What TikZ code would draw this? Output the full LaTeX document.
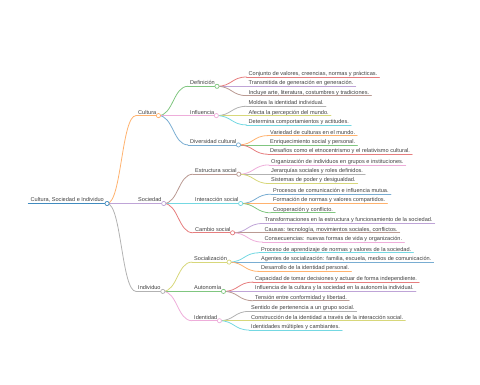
\documentclass[tikz,border=0pt]{standalone}
\usepackage{fontspec}
\setmainfont{Liberation Sans}
\usetikzlibrary{calc}
\definecolor{kblue}{HTML}{1F77B4}
\definecolor{korange}{HTML}{FF7F0E}
\definecolor{kgreen}{HTML}{2CA02C}
\definecolor{kred}{HTML}{D62728}
\definecolor{kpurple}{HTML}{9467BD}
\definecolor{kbrown}{HTML}{8C564B}
\definecolor{kpink}{HTML}{E377C2}
\definecolor{kgray}{HTML}{7F7F7F}
\definecolor{kolive}{HTML}{BCBD22}
\definecolor{kcyan}{HTML}{17BECF}
\colorlet{cblue}{kblue!60!white}
\colorlet{corange}{korange!60!white}
\colorlet{cgreen}{kgreen!60!white}
\colorlet{cred}{kred!60!white}
\colorlet{cpurple}{kpurple!60!white}
\colorlet{cbrown}{kbrown!60!white}
\colorlet{cpink}{kpink!60!white}
\colorlet{cgray}{kgray!60!white}
\colorlet{colive}{kolive!60!white}
\colorlet{ccyan}{kcyan!60!white}
\tikzset{
  mmtext/.style={font=\fontsize{5.6}{6.7}\selectfont, text=black!75, inner xsep=2pt, inner ysep=0pt},
  mmline/.style={line width=0.8pt, line cap=round},
  mmdot/.style={circle, fill=white, minimum size=4.2pt, inner sep=0pt, line width=0.7pt},
}
\newcommand\mmn[5]{%
  \coordinate (#1s) at (#3,#4);
  \node[mmtext, anchor=base west] (#1) at ($(#1s)+(0,-1.6)$) {#5};
  \draw[mmline, draw=#2] (#1s) -- (#1.east |- #1s) coordinate (#1e);
}
\newcommand\mml[3]{\draw[mmline, draw=#1] (#2) .. controls ($(#2)!0.5!(#2 -| #3)$) and ($(#3)!0.5!(#3 -| #2)$) .. (#3);}
\newcommand\mmc[2]{\node[mmdot, draw=#2] (#1c) at (#1e) {};}
\begin{document}
\begin{tikzpicture}[x=1pt, y=-1pt]
\useasboundingbox (0,0) rectangle (480,384);
% root
\coordinate (rs) at (27.5,203.5);
\node[mmtext, inner xsep=3pt, anchor=base west] (r) at ($(rs)+(0,-1.6)$) {Cultura, Sociedad e Individuo};
\draw[line width=1.2pt, draw=kblue!85!white] (rs) -- (r.east |- rs) coordinate (re);
% level 1
\mmn{cul}{corange}{136}{115.6}{Cultura}
\mmn{soc}{cpurple}{136}{203.5}{Sociedad}
\mmn{ind}{cgray}{136}{291.4}{Individuo}
\mml{corange}{re}{culs}
\mml{cpurple}{re}{socs}
\mml{cgray}{re}{inds}
% level 2
\mmn{def}{cgreen}{188}{86.3}{Definición}
\mmn{inf}{cpink}{188}{115.6}{Influencia}
\mmn{div}{cblue}{188}{144.9}{Diversidad cultural}
\mmn{est}{cbrown}{193}{174.2}{Estructura social}
\mmn{int}{ccyan}{193}{203.5}{Interacción social}
\mmn{cam}{cred}{193}{232.8}{Cambio social}
\mmn{soz}{colive}{192}{262.1}{Socialización}
\mmn{aut}{cgreen}{192}{291.4}{Autonomía}
\mmn{idn}{cpink}{192}{320.7}{Identidad}
\mml{cgreen}{cule}{defs}
\mml{cpink}{cule}{infs}
\mml{cblue}{cule}{divs}
\mml{cbrown}{soce}{ests}
\mml{ccyan}{soce}{ints}
\mml{cred}{soce}{cams}
\mml{colive}{inde}{sozs}
\mml{cgreen}{inde}{auts}
\mml{cpink}{inde}{idns}
% leaves: Definición
\mmn{a1}{cred}{246.5}{77}{Conjunto de valores, creencias, normas y prácticas.}
\mmn{a2}{cpurple}{246.5}{86.3}{Transmitida de generación en generación.}
\mmn{a3}{cbrown}{246.5}{95.6}{Incluye arte, literatura, costumbres y tradiciones.}
\mml{cred}{defe}{a1s}\mml{cpurple}{defe}{a2s}\mml{cbrown}{defe}{a3s}
% Influencia
\mmn{b1}{cgray}{246.5}{106.3}{Moldea la identidad individual.}
\mmn{b2}{colive}{246.5}{115.6}{Afecta la percepción del mundo.}
\mmn{b3}{ccyan}{246.5}{124.9}{Determina comportamientos y actitudes.}
\mml{cgray}{infe}{b1s}\mml{colive}{infe}{b2s}\mml{ccyan}{infe}{b3s}
% Diversidad
\mmn{c1}{corange}{268}{135.6}{Variedad de culturas en el mundo.}
\mmn{c2}{cgreen}{268}{144.9}{Enriquecimiento social y personal.}
\mmn{c3}{cred}{268}{154.2}{Desafíos como el etnocentrismo y el relativismo cultural.}
\mml{corange}{dive}{c1s}\mml{cgreen}{dive}{c2s}\mml{cred}{dive}{c3s}
% Estructura
\mmn{d1}{cpink}{269}{164.9}{Organización de individuos en grupos e instituciones.}
\mmn{d2}{cgray}{269}{174.2}{Jerarquías sociales y roles definidos.}
\mmn{d3}{colive}{269}{183.5}{Sistemas de poder y desigualdad.}
\mml{cpink}{este}{d1s}\mml{cgray}{este}{d2s}\mml{colive}{este}{d3s}
% Interacción
\mmn{e1}{cblue}{271}{194.2}{Procesos de comunicación e influencia mutua.}
\mmn{e2}{corange}{271}{203.5}{Formación de normas y valores compartidos.}
\mmn{e3}{cgreen}{271}{212.8}{Cooperación y conflicto.}
\mml{cblue}{inte}{e1s}\mml{corange}{inte}{e2s}\mml{cgreen}{inte}{e3s}
% Cambio
\mmn{f1}{cpurple}{262.5}{223.5}{Transformaciones en la estructura y funcionamiento de la sociedad.}
\mmn{f2}{cbrown}{262.5}{232.8}{Causas: tecnología, movimientos sociales, conflictos.}
\mmn{f3}{cpink}{262.5}{242.1}{Consecuencias: nuevas formas de vida y organización.}
\mml{cpurple}{came}{f1s}\mml{cbrown}{came}{f2s}\mml{cpink}{came}{f3s}
% Socialización
\mmn{g1}{ccyan}{259}{252.8}{Proceso de aprendizaje de normas y valores de la sociedad.}
\mmn{g2}{cblue}{259}{262.1}{Agentes de socialización: familia, escuela, medios de comunicación.}
\mmn{g3}{corange}{259}{271.4}{Desarrollo de la identidad personal.}
\mml{ccyan}{soze}{g1s}\mml{cblue}{soze}{g2s}\mml{corange}{soze}{g3s}
% Autonomía
\mmn{h1}{cred}{253}{282.1}{Capacidad de tomar decisiones y actuar de forma independiente.}
\mmn{h2}{cpurple}{253}{291.4}{Influencia de la cultura y la sociedad en la autonomía individual.}
\mmn{h3}{cbrown}{253}{300.7}{Tensión entre conformidad y libertad.}
\mml{cred}{aute}{h1s}\mml{cpurple}{aute}{h2s}\mml{cbrown}{aute}{h3s}
% Identidad
\mmn{i1}{cgray}{249}{311.4}{Sentido de pertenencia a un grupo social.}
\mmn{i2}{colive}{249}{320.7}{Construcción de la identidad a través de la interacción social.}
\mmn{i3}{ccyan}{249}{330}{Identidades múltiples y cambiantes.}
\mml{cgray}{idne}{i1s}\mml{colive}{idne}{i2s}\mml{ccyan}{idne}{i3s}
% circles
\mmc{r}{kblue!85!white}
\mmc{cul}{corange}\mmc{soc}{cpurple}\mmc{ind}{cgray}
\mmc{def}{cgreen}\mmc{inf}{cpink}\mmc{div}{cblue}
\mmc{est}{cbrown}\mmc{int}{ccyan}\mmc{cam}{cred}
\mmc{soz}{colive}\mmc{aut}{cgreen}\mmc{idn}{cpink}
\end{tikzpicture}
\end{document}
